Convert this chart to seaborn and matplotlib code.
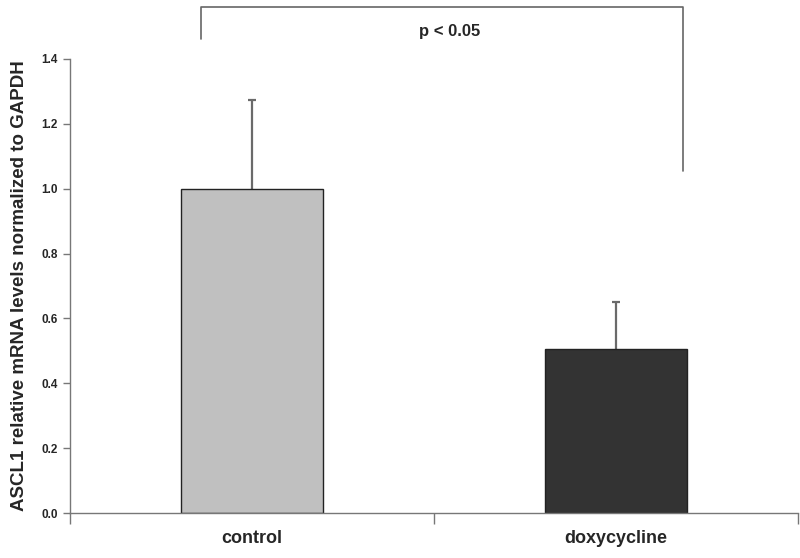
import matplotlib
matplotlib.use("Agg")
import matplotlib.pyplot as plt
import seaborn as sns
import pandas as pd
import numpy as np
from matplotlib import font_manager

categories = ["control", "doxycycline"]
values = [1.0, 0.505]
errors = [0.275, 0.145]
colors = ["#c0c0c0", "#333333"]
yticks = [0.0, 0.2, 0.4, 0.6, 0.8, 1.0, 1.2, 1.4]
ylabel = "ASCL1 relative mRNA levels normalized to GAPDH"
ptext = "p < 0.05"

sns.set_style("white")
names = {f.name for f in font_manager.fontManager.ttflist}
narrow = "Liberation Sans Narrow" if "Liberation Sans Narrow" in names else "Liberation Sans"
plt.rcParams["font.family"] = ["Liberation Sans", "DejaVu Sans"]

df = pd.DataFrame({"cond": categories, "val": values})

fig = plt.figure(figsize=(8, 5.58), dpi=100)
ax = fig.add_axes([70/800, 1 - 513/558, 728/800, (513-59)/558])
sns.barplot(data=df, x="cond", y="val", hue="cond", palette=colors, width=0.39,
            edgecolor="#222222", linewidth=1.0, legend=False, ax=ax, errorbar=None,
            zorder=2)
eb = ax.errorbar(np.arange(len(categories)), values,
                 yerr=[np.zeros(len(errors)), errors], fmt="none",
                 ecolor="#6a6a6a", elinewidth=1.6, capsize=3, capthick=1.6, zorder=1)
caps = eb.lines[1]
if len(caps) >= 1:
    caps[0].set_visible(False)

ax.set_xlim(-0.5, 1.5)
ax.set_ylim(0, 1.4)
ax.set_yticks(yticks)
ax.set_yticklabels([f"{t:.1f}" for t in yticks], fontfamily=narrow,
                   fontweight="bold", fontsize=8.5)
ax.set_xticks([0, 1])
ax.set_xticklabels(categories, fontfamily=narrow, fontweight="bold", fontsize=13)
ax.tick_params(axis="x", which="major", length=0, pad=12)
ax.set_xticks([-0.5, 0.5, 1.5], minor=True)
ax.tick_params(axis="x", which="minor", length=8, width=1, color="#777777", direction="out", bottom=True)
ax.tick_params(axis="y", length=5, width=1, color="#777777", direction="out", left=True, pad=4)
ax.set_xlabel("")
ax.set_ylabel(ylabel, fontsize=13.5, fontweight="bold", labelpad=9)
for s in ["top", "right"]:
    ax.spines[s].set_visible(False)
for s in ["left", "bottom"]:
    ax.spines[s].set_color("#777777")
    ax.spines[s].set_linewidth(1.0)

# significance bracket
x0, x1 = -0.14, 1.184
ytop = 1.56
ax.plot([x0, x0, x1, x1], [1.462, ytop, ytop, 1.056], color="#666666", lw=1.2,
        clip_on=False)
ax.text(0.544, 1.486, ptext, ha="center", va="center", fontsize=12,
        fontweight="bold", clip_on=False)

fig.savefig("out.png", dpi=100)
